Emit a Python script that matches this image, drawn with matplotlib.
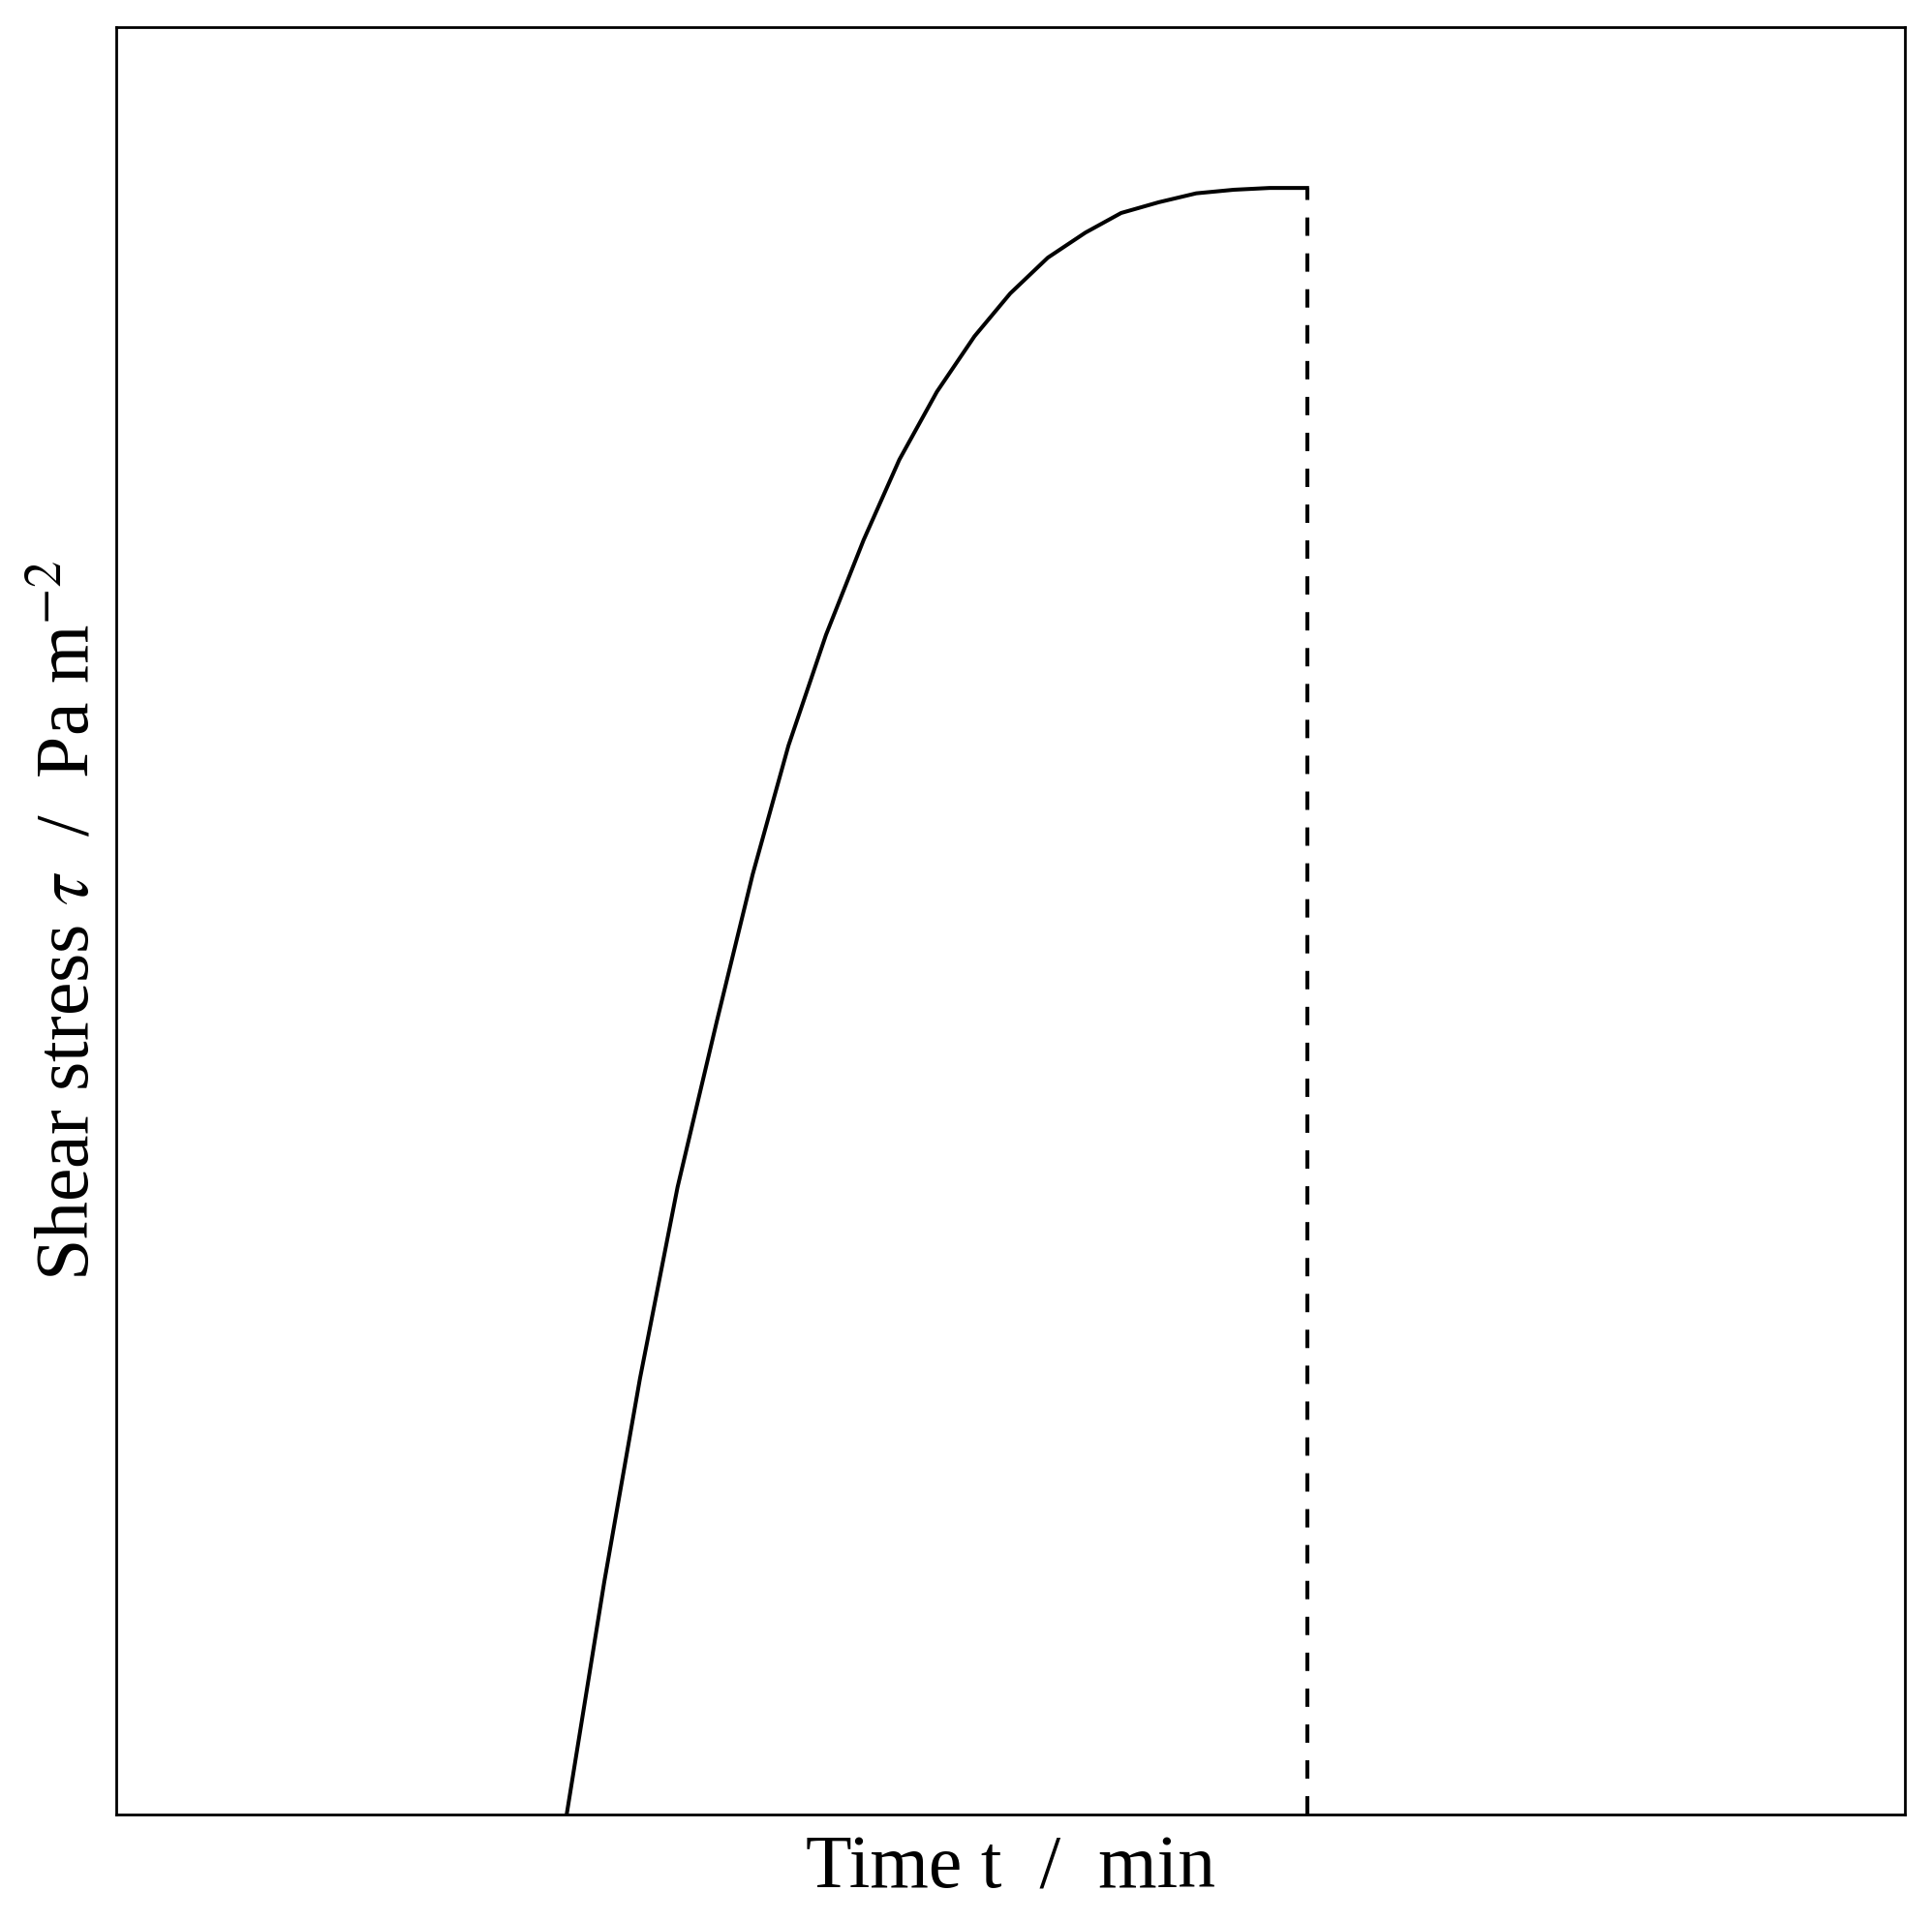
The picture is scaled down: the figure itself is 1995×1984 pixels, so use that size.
import matplotlib
matplotlib.use("Agg")
import matplotlib.pyplot as plt

# Curve (arbitrary units, axes span 0..10)
time_t = [2.52, 2.73, 2.93, 3.14, 3.36, 3.56, 3.76, 3.97, 4.18, 4.38, 4.59,
          4.80, 5.00, 5.21, 5.42, 5.62, 5.83, 6.04, 6.25, 6.45, 6.66]
stress = [0.00, 1.30, 2.44, 3.51, 4.44, 5.26, 5.98, 6.60, 7.13, 7.58, 7.96,
          8.27, 8.51, 8.71, 8.85, 8.96, 9.02, 9.07, 9.09, 9.10, 9.10]
x_range = [0, 10]
y_range = [0, 10]
xlabel = "Time t  /  min"
ylabel = r"Shear stress $\tau$  /  Pa m$^{-2}$"

plt.rcParams['font.family'] = ['Liberation Serif', 'DejaVu Serif']
plt.rcParams['mathtext.fontset'] = 'stix'

fig = plt.figure(figsize=(19.95, 19.84), dpi=100)
ax = fig.add_axes([0.0600, 0.0554, 0.9258, 0.9305])

ax.plot(time_t, stress, color='black', lw=2.9, solid_joinstyle='round')
ax.plot([time_t[-1], time_t[-1]], [0, stress[-1]], color='black', lw=2.9,
        linestyle=(0, (4.7, 4.5)))

ax.set_xlim(*x_range)
ax.set_ylim(*y_range)
ax.set_xticks([])
ax.set_yticks([])
for s in ax.spines.values():
    s.set_linewidth(2.0)

ax.set_xlabel(xlabel, fontsize=56, labelpad=15)
ax.set_ylabel(ylabel, fontsize=56, labelpad=8)

fig.savefig("out.png", dpi=100)
